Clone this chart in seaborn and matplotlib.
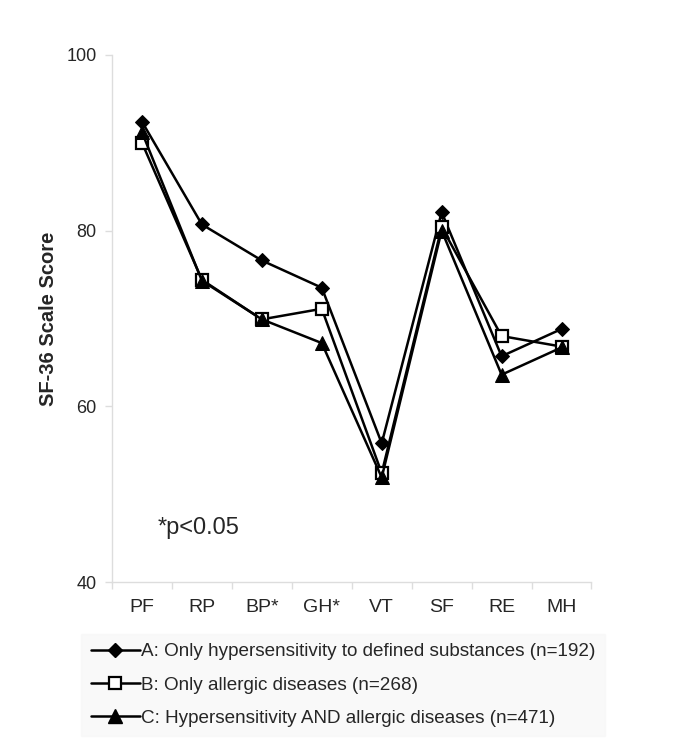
import numpy as np
import pandas as pd
import seaborn as sns
import matplotlib.pyplot as plt
from matplotlib.lines import Line2D

# SF-36 scale scores
scales = ['PF', 'RP', 'BP*', 'GH*', 'VT', 'SF', 'RE', 'MH']
group_a = [92.4, 80.7, 76.6, 73.5, 55.8, 82.1, 65.7, 68.8]
group_b = [90.0, 74.4, 69.9, 71.1, 52.4, 80.4, 68.0, 66.8]
group_c = [91.2, 74.3, 69.9, 67.2, 51.9, 80.0, 63.6, 66.7]
labels = ['A: Only hypersensitivity to defined substances (n=192)',
          'B: Only allergic diseases (n=268)',
          'C: Hypersensitivity AND allergic diseases (n=471)']

sns.set_style('white')
plt.rcParams['font.family'] = ['Liberation Sans', 'DejaVu Sans']

fig = plt.figure(figsize=(6.85, 7.52), dpi=100)
ax = fig.add_axes([0.1635, 0.226, 0.7, 0.701])

x = np.arange(len(scales))
styles = [
    dict(marker='D', markersize=7.5, markerfacecolor='black'),
    dict(marker='s', markersize=9, markerfacecolor='white', markeredgewidth=1.6),
    dict(marker='^', markersize=10, markerfacecolor='black'),
]
for vals, st in zip([group_a, group_b, group_c], styles):
    sns.lineplot(x=x, y=vals, ax=ax, color='black', linewidth=1.8,
                 markeredgecolor='black', **st)

ax.set_xlim(-0.5, len(scales) - 0.5)
ax.set_ylim(40, 100)
ax.set_yticks([40, 60, 80, 100])
ax.set_xticks(x)
ax.set_xticklabels(scales)
ax.set_xticks(np.arange(-0.5, len(scales), 1), minor=True)
ax.tick_params(axis='x', which='major', length=0, pad=12, labelsize=14)
ax.tick_params(axis='x', which='minor', length=5, color='#dddddd', width=1, bottom=True)
ax.tick_params(axis='y', length=5, color='#dddddd', width=1, left=True, labelsize=13, pad=6)

for side in ['top', 'right']:
    ax.spines[side].set_visible(False)
for side in ['left', 'bottom']:
    ax.spines[side].set_color('#dddddd')
    ax.spines[side].set_linewidth(1)

ax.set_ylabel('SF-36 Scale Score', fontsize=14.5, fontweight='bold', labelpad=6)
ax.text(0.095, 0.103, '*p<0.05', transform=ax.transAxes, fontsize=17, va='center')

handles = [Line2D([], [], color='black', linewidth=1.8, markeredgecolor='black', **st)
           for st in styles]
leg = fig.legend(handles, labels, loc='upper left', bbox_to_anchor=(0.105, 0.17),
                 fontsize=13.6, handlelength=2.6, handletextpad=0.05, labelspacing=0.85,
                 frameon=True, fancybox=False, borderpad=0.5)
leg.get_frame().set_facecolor('#f8f8f8')
leg.get_frame().set_edgecolor('#f8f8f8')

fig.savefig('out.png', dpi=100, facecolor='white')
